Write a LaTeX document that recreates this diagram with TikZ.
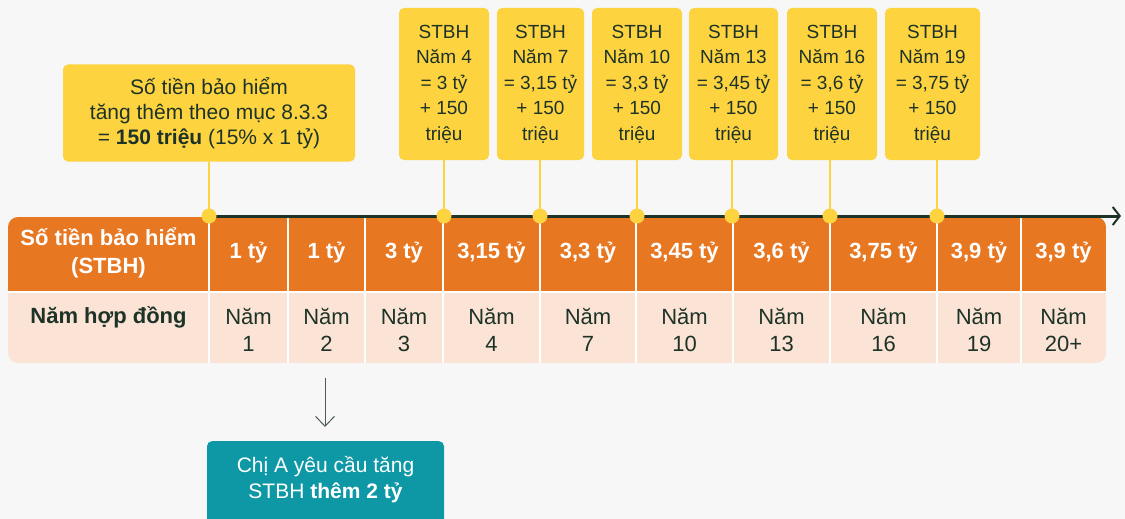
\documentclass[tikz,border=0pt]{standalone}
\usepackage{fontspec}
\setmainfont{Liberation Sans}
\usetikzlibrary{arrows.meta}
\definecolor{bg}{HTML}{F7F7F7}
\definecolor{org}{HTML}{E87722}
\definecolor{peach}{HTML}{FBE4D5}
\definecolor{yel}{HTML}{FED340}
\definecolor{dk}{HTML}{1E3328}
\definecolor{tealc}{HTML}{0E98A5}
\begin{document}
\begin{tikzpicture}[x=1pt,y=-1pt,
  ybox/.style={fill=yel, rounded corners=5pt, inner sep=0pt, align=center, text=dk,
    font=\fontsize{19}{25.5}\selectfont},
  cbox/.style={fill=yel, rounded corners=5pt, inner sep=0pt, align=center, text=dk,
    font=\fontsize{21}{25}\selectfont, minimum width=292, minimum height=97},
  hcell/.style={inner sep=0pt, align=center, text=white, font=\fontsize{22}{28}\selectfont\bfseries},
  rcell/.style={inner sep=0pt, align=center, text=dk, font=\fontsize{22}{26.5}\selectfont},
  yline/.style={draw=yel, line width=2.5pt},
  ydot/.style={fill=yel},
  sep/.style={draw=white, line width=2pt},
  tbox/.style={fill=tealc, rounded corners=5pt, inner sep=0pt, minimum width=237, minimum height=110},
  ttext/.style={inner sep=0pt, align=center, text=white, font=\fontsize{21}{26}\selectfont}]
\fill[bg] (0,0) rectangle (1125,519);
\useasboundingbox (0,0) rectangle (1125,519);

% table background
\begin{scope}
\clip[rounded corners=10pt] (8,217) rectangle (1106,363);
\fill[org] (8,217) rectangle (1106,292);
\fill[peach] (8,292) rectangle (1106,363);
\end{scope}
\draw[sep] (8,292) -- (1106,292);
\foreach \x in {209,288,365,443,540,636,733,830,937,1021}
  \draw[sep] (\x,217) -- (\x,363);

% header cells
\node[hcell] (h0) at (108.5,253) {Số tiền bảo hiểm\\(STBH)};
\node[hcell] (h1) at (248.5,253) {1 tỷ};
\node[hcell] (h2) at (326.5,253) {1 tỷ};
\node[hcell] (h3) at (404,253) {3 tỷ};
\node[hcell] (h4) at (491.5,253) {3,15 tỷ};
\node[hcell] (h5) at (588,253) {3,3 tỷ};
\node[hcell] (h6) at (684.5,253) {3,45 tỷ};
\node[hcell] (h7) at (781.5,253) {3,6 tỷ};
\node[hcell] (h8) at (883.5,253) {3,75 tỷ};
\node[hcell] (h9) at (979,253) {3,9 tỷ};
\node[hcell] (h10) at (1063.5,253) {3,9 tỷ};

% year cells
\node[rcell, font=\fontsize{22}{26.5}\selectfont\bfseries] (r0) at (108.5,317) {Năm hợp đồng};
\node[rcell] (r1) at (248.5,330) {Năm\\1};
\node[rcell] (r2) at (326.5,330) {Năm\\2};
\node[rcell] (r3) at (404,330) {Năm\\3};
\node[rcell] (r4) at (491.5,330) {Năm\\4};
\node[rcell] (r5) at (588,330) {Năm\\7};
\node[rcell] (r6) at (684.5,330) {Năm\\10};
\node[rcell] (r7) at (781.5,330) {Năm\\13};
\node[rcell] (r8) at (883.5,330) {Năm\\16};
\node[rcell] (r9) at (979,330) {Năm\\19};
\node[rcell] (r10) at (1063.5,330) {Năm\\20+};

% timeline
\coordinate (d0) at (209,216);
\coordinate (d1) at (444,216);
\coordinate (d2) at (540,216);
\coordinate (d3) at (637,216);
\coordinate (d4) at (732,216);
\coordinate (d5) at (830,216);
\coordinate (d6) at (937,216);
\coordinate (tend) at (1121,216);
\draw[dk, line width=3pt, -{Straight Barb[length=7pt, width=18pt, line width=2pt]}] (d0) -- (tend);

% callouts
\node[cbox] (c0) at (209,113) {Số tiền bảo hiểm\\tăng thêm theo mục 8.3.3\\= \textbf{150 triệu} (15\% x 1 tỷ)};
\node[ybox, minimum width=90, minimum height=152] (b1) at (444,84) {STBH\\Năm 4\\= 3 tỷ\\+ 150\\triệu};
\node[ybox, minimum width=87, minimum height=152] (b2) at (540.5,84) {STBH\\Năm 7\\= 3,15 tỷ\\+ 150\\triệu};
\node[ybox, minimum width=90, minimum height=152] (b3) at (637,84) {STBH\\Năm 10\\= 3,3 tỷ\\+ 150\\triệu};
\node[ybox, minimum width=89, minimum height=152] (b4) at (733.5,84) {STBH\\Năm 13\\= 3,45 tỷ\\+ 150\\triệu};
\node[ybox, minimum width=90, minimum height=152] (b5) at (832,84) {STBH\\Năm 16\\= 3,6 tỷ\\+ 150\\triệu};
\node[ybox, minimum width=95, minimum height=152] (b6) at (932.5,84) {STBH\\Năm 19\\= 3,75 tỷ\\+ 150\\triệu};

\draw[yline] (c0.south -| d0) -- (d0);
\draw[yline] (b1.south -| d1) -- (d1);
\draw[yline] (b2.south -| d2) -- (d2);
\draw[yline] (b3.south -| d3) -- (d3);
\draw[yline] (b4.south -| d4) -- (d4);
\draw[yline] (b5.south -| d5) -- (d5);
\draw[yline] (b6.south -| d6) -- (d6);
\foreach \d in {d0,d1,d2,d3,d4,d5,d6}
  \fill[ydot] (\d) circle (7.5pt);

% request box
\node[tbox, anchor=north] (req) at (325.5,441) {};
\node[ttext] (reqtext) at (325.5,480) {Chị A yêu cầu tăng\\STBH \textbf{thêm 2 tỷ}};
\coordinate (astart) at (325,378);
\coordinate (aend) at (325,427);
\draw[draw=dk!80, line width=1pt, -{Straight Barb[length=10pt, width=19pt, line width=1pt]}] (astart) -- (aend);
\end{tikzpicture}
\end{document}
